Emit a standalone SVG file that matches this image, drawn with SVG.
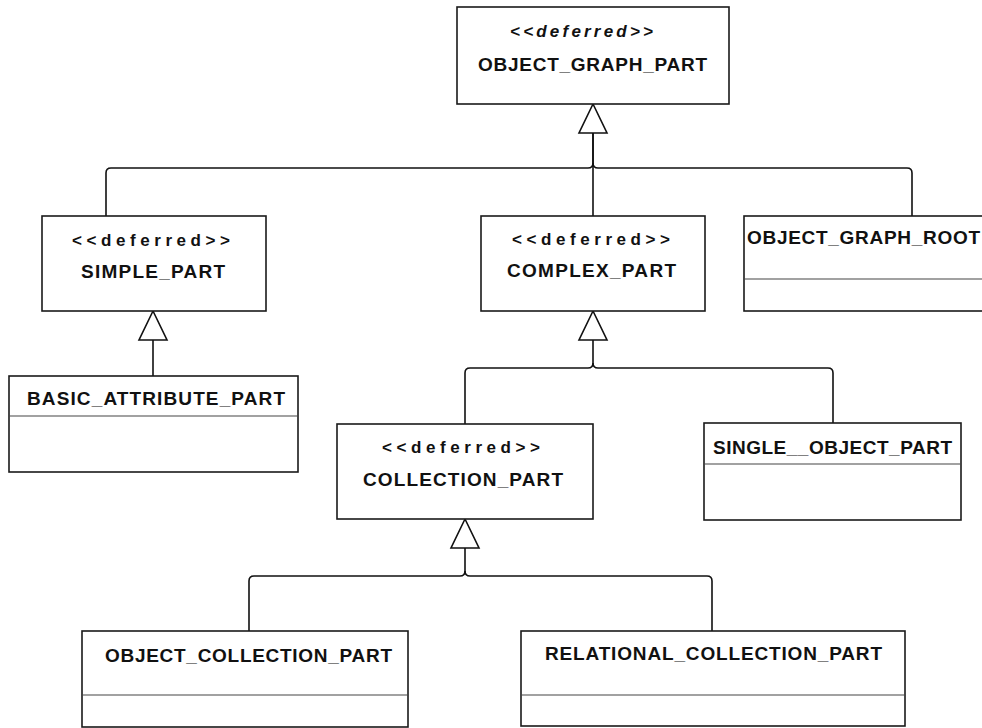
<svg xmlns="http://www.w3.org/2000/svg" width="982" height="728" viewBox="0 0 982 728">
<style>
.box{fill:#fff;stroke:#1a1a1a;stroke-width:1.6}
.div{stroke:#444;stroke-width:1.2;fill:none}
.name{font-family:"Liberation Sans",Arial,sans-serif;font-weight:bold;font-size:19px;fill:#111}
.st{font-family:"Liberation Sans",Arial,sans-serif;font-weight:bold;font-size:17px;fill:#111}
.it{font-style:italic}
.edge{fill:none;stroke:#111;stroke-width:1.6}
.tri{fill:#fff;stroke:#111;stroke-width:1.6;stroke-linejoin:miter}
</style>
<rect width="982" height="728" fill="#fff"/>
<g id="connectors">
<path class="edge" d="M106,216 V173 Q106,168 111,168 H588 Q593,168 593,163 V133"/>
<path class="edge" d="M912,216 V173 Q912,168 907,168 H598 Q593,168 593,163"/>
<path class="edge" d="M593,216 V133"/>
<polygon class="tri" points="593,104 579,133 607,133"/>
<path class="edge" d="M153,376 V340"/>
<polygon class="tri" points="153,311 139,340 167,340"/>
<path class="edge" d="M465,424 V373 Q465,368 470,368 H588 Q593,368 593,363 V340"/>
<path class="edge" d="M833,423 V373 Q833,368 828,368 H598 Q593,368 593,363"/>
<polygon class="tri" points="593,311 579,340 607,340"/>
<path class="edge" d="M249,631 V581 Q249,576 254,576 H460 Q465,576 465,571 V548"/>
<path class="edge" d="M712,631 V581 Q712,576 707,576 H470 Q465,576 465,571"/>
<polygon class="tri" points="465,519 451,548 479,548"/>
</g>
<g id="OBJECT_GRAPH_PART">
<rect class="box" x="457" y="7" width="272" height="97"/>
<text class="st it" x="510" y="37" textLength="143" lengthAdjust="spacing">&lt;&lt;deferred&gt;&gt;</text>
<text class="name" x="478" y="71" textLength="229" lengthAdjust="spacing">OBJECT_GRAPH_PART</text>
</g>
<g id="SIMPLE_PART">
<rect class="box" x="42" y="216" width="224" height="95"/>
<text class="st" x="72" y="246" textLength="158" lengthAdjust="spacing">&lt;&lt;deferred&gt;&gt;</text>
<text class="name" x="81" y="278" textLength="144" lengthAdjust="spacing">SIMPLE_PART</text>
</g>
<g id="COMPLEX_PART">
<rect class="box" x="481" y="216" width="224" height="95"/>
<text class="st" x="512" y="245" textLength="158" lengthAdjust="spacing">&lt;&lt;deferred&gt;&gt;</text>
<text class="name" x="507" y="277" textLength="169" lengthAdjust="spacing">COMPLEX_PART</text>
</g>
<g id="OBJECT_GRAPH_ROOT">
<rect class="box" x="744" y="216" width="260" height="95"/>
<line class="div" x1="744" y1="279" x2="1004" y2="279"/>
<text class="name" x="747" y="244" textLength="233" lengthAdjust="spacing">OBJECT_GRAPH_ROOT</text>
</g>
<g id="BASIC_ATTRIBUTE_PART">
<rect class="box" x="9" y="376" width="289" height="96"/>
<line class="div" x1="9" y1="416" x2="298" y2="416"/>
<text class="name" x="27" y="405" textLength="258" lengthAdjust="spacing">BASIC_ATTRIBUTE_PART</text>
</g>
<g id="COLLECTION_PART">
<rect class="box" x="337" y="424" width="256" height="95"/>
<text class="st" x="382" y="453" textLength="158" lengthAdjust="spacing">&lt;&lt;deferred&gt;&gt;</text>
<text class="name" x="363" y="486" textLength="200" lengthAdjust="spacing">COLLECTION_PART</text>
</g>
<g id="SINGLE__OBJECT_PART">
<rect class="box" x="704" y="423" width="257" height="97"/>
<line class="div" x1="704" y1="464" x2="961" y2="464"/>
<text class="name" x="713" y="454" textLength="239" lengthAdjust="spacing">SINGLE__OBJECT_PART</text>
</g>
<g id="OBJECT_COLLECTION_PART">
<rect class="box" x="82" y="631" width="326" height="96"/>
<line class="div" x1="82" y1="695" x2="408" y2="695"/>
<text class="name" x="105" y="662" textLength="287" lengthAdjust="spacing">OBJECT_COLLECTION_PART</text>
</g>
<g id="RELATIONAL_COLLECTION_PART">
<rect class="box" x="521" y="631" width="384" height="95"/>
<line class="div" x1="521" y1="695" x2="905" y2="695"/>
<text class="name" x="545" y="660" textLength="337" lengthAdjust="spacing">RELATIONAL_COLLECTION_PART</text>
</g>
</svg>
